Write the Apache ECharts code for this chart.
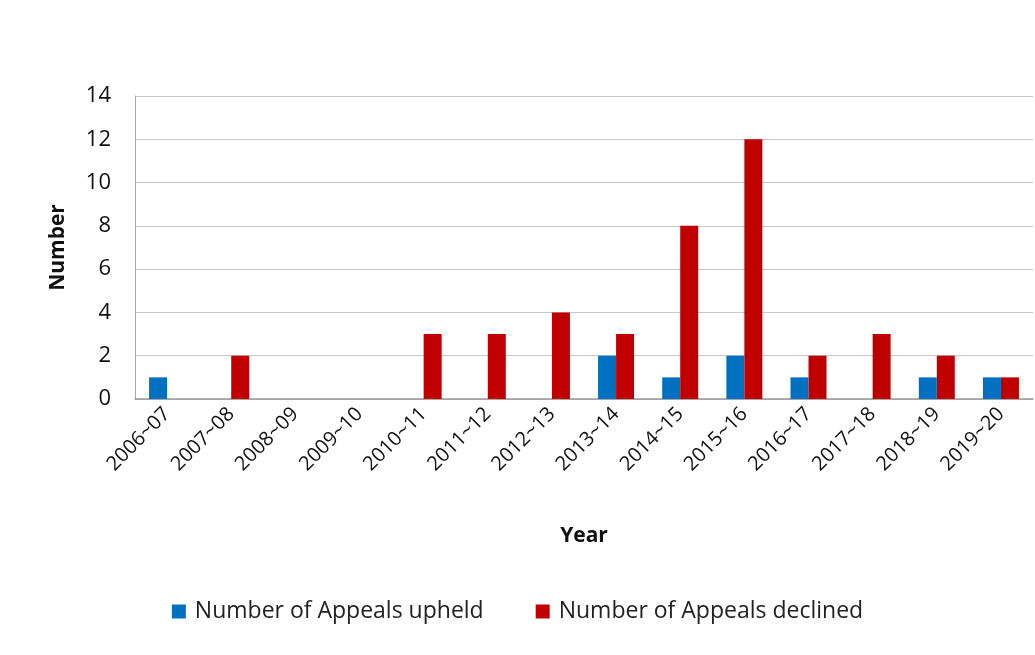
<!DOCTYPE html>
<html>
<head>
<meta charset="utf-8">
<script src="https://cdn.jsdelivr.net/npm/echarts@6/dist/echarts.min.js"></script>
<style>
  html, body { margin: 0; padding: 0; background: #fff; }
  #main { width: 1035px; height: 655px; }
</style>
</head>
<body>
<div id="main"></div>
<script>
// data
var years = ['2006~07', '2007~08', '2008~09', '2009~10', '2010~11', '2011~12', '2012~13',
             '2013~14', '2014~15', '2015~16', '2016~17', '2017~18', '2018~19', '2019~20'];
var upheld   = [1, 0, 0, 0, 0, 0, 0, 2, 1, 2, 1, 0, 1, 1];
var declined = [0, 2, 0, 0, 3, 3, 4, 3, 8, 12, 2, 3, 2, 1];
var yTicks = [0, 2, 4, 6, 8, 10, 12, 14];

var font = '"Open Sans", sans-serif';
var myChart = echarts.init(document.getElementById('main'));

myChart.setOption({
    animation: false,
    textStyle: { fontFamily: font },
    grid: { left: 135, right: 2, top: 96, bottom: 256 },
    legend: {
        bottom: 27,
        left: 'center',
        itemWidth: 14,
        itemHeight: 14,
        itemGap: 52,
        icon: 'rect',
        textStyle: { fontSize: 23, color: '#222', fontFamily: font, padding: [0, 0, 0, 4] },
        data: ['Number of Appeals upheld', 'Number of Appeals declined']
    },
    xAxis: {
        type: 'category',
        data: years,
        name: 'Year',
        nameLocation: 'middle',
        nameGap: 127,
        nameTextStyle: { fontSize: 21, fontWeight: 'bold', color: '#111', fontFamily: font },
        axisLine: { lineStyle: { color: '#999', width: 1.5 } },
        axisTick: { show: false },
        axisLabel: { rotate: 45, fontSize: 20, color: '#111', margin: 12, interval: 0 }
    },
    yAxis: {
        type: 'value',
        min: yTicks[0],
        max: yTicks[yTicks.length - 1],
        interval: 2,
        name: 'Number',
        nameLocation: 'middle',
        nameGap: 66,
        nameRotate: 90,
        nameTextStyle: { fontSize: 21, fontWeight: 'bold', color: '#111', fontFamily: font },
        axisLine: { show: true, lineStyle: { color: '#aaa' } },
        axisTick: { show: false },
        axisLabel: { fontSize: 22, color: '#111', margin: 24 },
        splitLine: { lineStyle: { color: '#c8c8c8', width: 1 } }
    },
    series: [
        {
            name: 'Number of Appeals upheld',
            type: 'bar',
            data: upheld,
            barWidth: 18,
            barGap: '0%',
            itemStyle: { color: '#0070C0' }
        },
        {
            name: 'Number of Appeals declined',
            type: 'bar',
            data: declined,
            barWidth: 18,
            itemStyle: { color: '#C00000' }
        }
    ]
});
</script>
</body>
</html>
